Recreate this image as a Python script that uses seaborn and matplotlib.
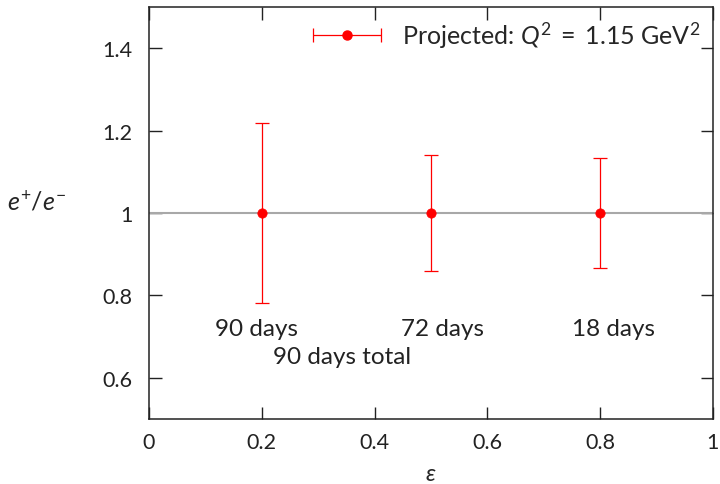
import matplotlib
matplotlib.use("Agg")
import matplotlib.pyplot as plt
from matplotlib.legend_handler import HandlerErrorbar
import seaborn as sns
import pandas as pd
import numpy as np

eps = [0.2, 0.5, 0.8]
ratio = [1.0, 1.0, 1.0]
err = [0.218, 0.141, 0.134]
labels = ["90 days", "72 days", "18 days"]
label_x = [0.19, 0.52, 0.823]
label_y = [0.72, 0.72, 0.72]
total_label = "90 days total"
total_pos = (0.342, 0.651)
legend_label = r"Projected: $Q^2\;=\;1.15$ GeV$^2$"

sns.set_theme(style="ticks")
plt.rcParams['font.family'] = ['Lato', 'DejaVu Sans']
plt.rcParams['mathtext.fontset'] = 'custom'
plt.rcParams['mathtext.rm'] = 'Lato'
plt.rcParams['mathtext.it'] = 'Lato:italic'
plt.rcParams['mathtext.bf'] = 'Lato:bold'

df = pd.DataFrame({"eps": eps, "ratio": ratio, "err": err})

fig = plt.figure(figsize=(7.2, 4.85), dpi=100)
ax = fig.add_axes([0.207, 0.134, 0.783, 0.8495])

ax.axhline(1.0, color="#a8a8a8", lw=1.5, zorder=1)
ax.errorbar(df["eps"], df["ratio"], yerr=df["err"], fmt="none", ecolor="red",
            lw=0.9, capsize=5, capthick=0.9, zorder=3)
sns.scatterplot(data=df, x="eps", y="ratio", color="red", s=45, edgecolor="red",
                ax=ax, zorder=4, legend=False)
# legend proxy (horizontal error bar like the reference key)
proxy = ax.errorbar([np.nan], [np.nan], xerr=[0.1], fmt="o", color="red",
                    ms=6.5, lw=0.9, capsize=5, capthick=0.9, label=legend_label)

for t, x, y in zip(labels, label_x, label_y):
    ax.text(x, y, t, ha="center", va="center", fontsize=17.5, color="#222222")
ax.text(total_pos[0], total_pos[1], total_label, ha="center", va="center",
        fontsize=17.5, color="#222222")

ax.set_xlim(0, 1)
ax.set_ylim(0.5, 1.5)
ax.set_xticks([0, 0.2, 0.4, 0.6, 0.8, 1.0])
ax.set_xticklabels(["0", "0.2", "0.4", "0.6", "0.8", "1"])
ax.set_yticks([0.6, 0.8, 1.0, 1.2, 1.4])
ax.set_yticklabels(["0.6", "0.8", "1", "1.2", "1.4"])
ax.tick_params(direction="in", length=9, width=1, top=True, right=True,
               labelsize=15.5, pad=9, colors="#222222")
ax.tick_params(axis="y", pad=12)
for s in ax.spines.values():
    s.set_linewidth(1.1)
    s.set_color("#222222")

ax.set_xlabel(r"$\epsilon$", fontsize=17, labelpad=8)
ax.set_ylabel(r"$e^{+}/e^{-}$", fontsize=18, rotation=0)
ax.yaxis.set_label_coords(-0.2, 0.5)

leg = ax.legend(handles=[proxy], loc="upper right", frameon=False, fontsize=18,
                handlelength=2.7, borderaxespad=0.1, handletextpad=0.85,
                handler_map={type(proxy): HandlerErrorbar(xerr_size=1.35, numpoints=1)})

fig.savefig("out.png", dpi=100)
